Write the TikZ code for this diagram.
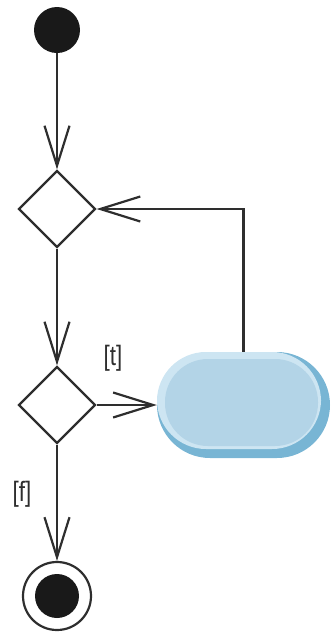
\documentclass[tikz,border=0pt]{standalone}
\usepackage{fontspec}
\setmainfont{Liberation Sans}
\usetikzlibrary{arrows.meta,shapes.geometric}
\definecolor{linegray}{HTML}{2E2E2E}
\definecolor{pilldark}{HTML}{78B5D4}
\definecolor{pilllight}{HTML}{CDE5F2}
\definecolor{pillmid}{HTML}{B3D4E7}
\newcommand{\guardfont}{\fontsize{28pt}{28pt}\selectfont}
\begin{document}
\begin{tikzpicture}[x=1pt,y=-1pt,
  flow/.style={draw=linegray,line width=2.2pt,-{Straight Barb[length=40pt,width=25pt,line width=2.2pt]}},
  choice/.style={draw=linegray,line width=2.2pt,shape=diamond,minimum width=77pt,minimum height=77pt,inner sep=0pt,fill=white},
  guard/.style={font=\guardfont,text=linegray,xscale=0.8}
]
\useasboundingbox (0,0) rectangle (330,633);

% initial node
\node[circle,fill=black!90,minimum size=46pt,inner sep=0pt] (start) at (57,30) {};

% decision / merge nodes
\node[choice] (d1) at (57,209) {};
\node[choice] (d2) at (57,405) {};

% action (layered pill for a raised look)
\fill[pilldark]  (157,352) [rounded corners=53pt] rectangle (330,458);
\fill[pilllight] (157,352) [rounded corners=49pt] rectangle (321,449);
\fill[pillmid]   (165,359) [rounded corners=43pt] rectangle (318,446);
\node[minimum width=173pt,minimum height=106pt,inner sep=0pt] (act) at (243.5,405) {};

% final node
\node[circle,draw=linegray,line width=2.2pt,minimum size=68pt,inner sep=0pt] (stop) at (57,596) {};
\node[circle,fill=black!90,minimum size=44pt,inner sep=0pt] (stopdot) at (stop.center) {};

% control flows
\draw[flow] (start) -- (d1.north);
\draw[flow] (d1.south) -- (d2.north);
\draw[flow] (d2.east) -- (act.west);
\draw[flow] (act.north) |- (d1.east);
\draw[flow] (d2.south) -- (stop.north);

% guards
\node[guard] at (113,358) {[t]};
\node[guard] at (22,494) {[f]};
\end{tikzpicture}
\end{document}
